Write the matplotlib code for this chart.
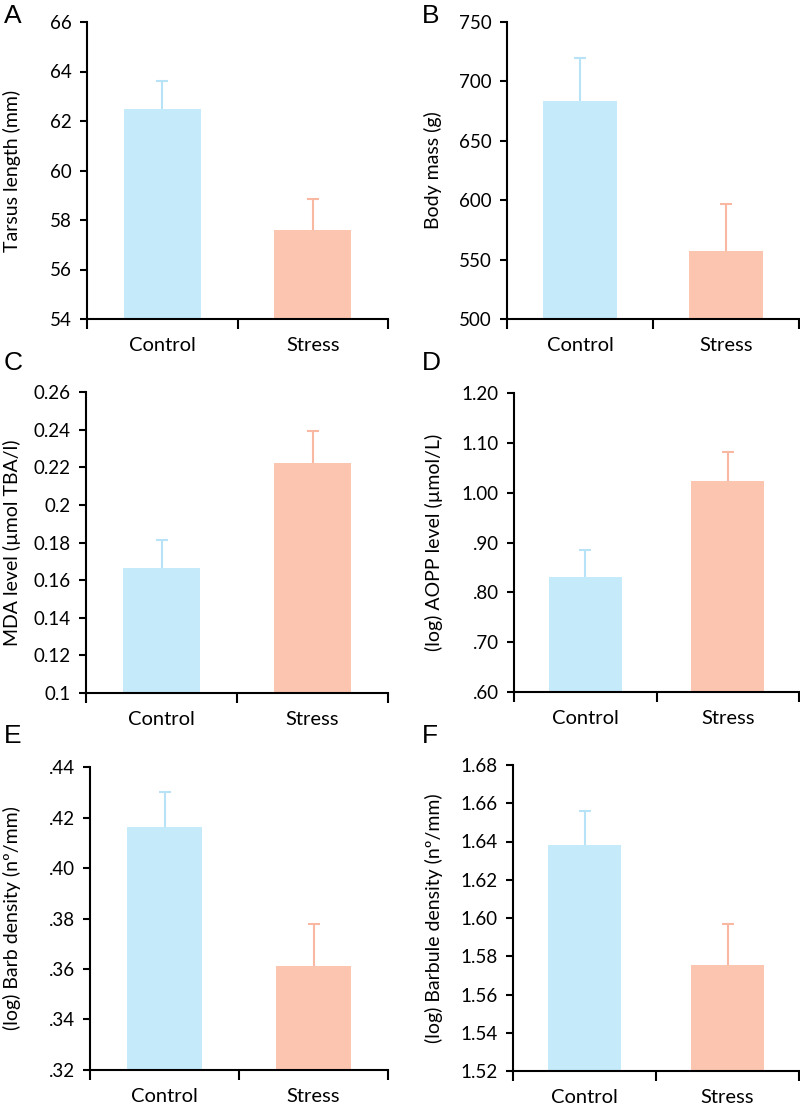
import matplotlib
matplotlib.use("Agg")
import matplotlib.pyplot as plt

plt.rcParams['font.family'] = ['Lato', 'DejaVu Sans']

groups = ["Control", "Stress"]

tarsus_mean = [62.49, 57.60]
tarsus_err = [1.12, 1.25]
mass_mean = [683.9, 557.2]
mass_err = [35.8, 39.8]
mda_mean = [0.1665, 0.2223]
mda_err = [0.0150, 0.0168]
aopp_mean = [0.830, 1.0225]
aopp_err = [0.055, 0.059]
barb_mean = [0.4164, 0.3611]
barb_err = [0.0136, 0.0168]
barbule_mean = [1.6381, 1.5753]
barbule_err = [0.0176, 0.0218]

ticks_A = [54, 56, 58, 60, 62, 64, 66]
labels_A = ["54", "56", "58", "60", "62", "64", "66"]
ticks_B = [500, 550, 600, 650, 700, 750]
labels_B = ["500", "550", "600", "650", "700", "750"]
ticks_C = [0.10, 0.12, 0.14, 0.16, 0.18, 0.20, 0.22, 0.24, 0.26]
labels_C = ["0.1", "0.12", "0.14", "0.16", "0.18", "0.2", "0.22", "0.24", "0.26"]
ticks_D = [0.60, 0.70, 0.80, 0.90, 1.00, 1.10, 1.20]
labels_D = [".60", ".70", ".80", ".90", "1.00", "1.10", "1.20"]
ticks_E = [0.32, 0.34, 0.36, 0.38, 0.40, 0.42, 0.44]
labels_E = [".32", ".34", ".36", ".38", ".40", ".42", ".44"]
ticks_F = [1.52, 1.54, 1.56, 1.58, 1.60, 1.62, 1.64, 1.66, 1.68]
labels_F = ["1.52", "1.54", "1.56", "1.58", "1.60", "1.62", "1.64", "1.66", "1.68"]

bar_colors = ["#C5EAFA", "#FCC5B0"]
err_colors = ["#B8E2F6", "#F8B8A2"]

W, H = 800, 1105
fig = plt.figure(figsize=(W / 100, H / 100), dpi=100)

def px_axes(left, right, top, bottom):
    return fig.add_axes([left / W, 1 - bottom / H, (right - left) / W, (bottom - top) / H])

panels = [
    ("A", (87, 388, 22, 319), tarsus_mean, tarsus_err, ticks_A, labels_A, "Tarsus length (mm)", 12, (4, 16)),
    ("B", (507, 799, 22, 319), mass_mean, mass_err, ticks_B, labels_B, "Body mass (g)", 433, (422, 16)),
    ("C", (86, 388, 392, 693), mda_mean, mda_err, ticks_C, labels_C, "MDA level (µmol TBA/l)", 12, (4, 363)),
    ("D", (514, 799, 393, 692), aopp_mean, aopp_err, ticks_D, labels_D, "(log) AOPP level (µmol/L)", 434, (422, 363)),
    ("E", (90, 388, 767, 1070), barb_mean, barb_err, ticks_E, labels_E, "(log) Barb density (nº/mm)", 12, (4, 736)),
    ("F", (513, 799, 765, 1071), barbule_mean, barbule_err, ticks_F, labels_F, "(log) Barbule density (nº/mm)", 434, (422, 736)),
]

for letter, box, means, errs, ticks, tlabels, ylab, ylab_x, letter_pos in panels:
    ax = px_axes(*box)
    x = [0, 1]
    ax.bar(x, means, width=0.51, color=bar_colors, zorder=2)
    for xi, m, e, ec in zip(x, means, errs, err_colors):
        _, caps, _ = ax.errorbar([xi], [m], yerr=[[0], [e]], fmt='none', ecolor=ec,
                                 elinewidth=1.5, capsize=4, capthick=1.5, zorder=3)
        caps[0].set_visible(False)
    ax.set_xlim(-0.5, 1.5)
    ax.set_ylim(ticks[0], ticks[-1])
    ax.set_yticks(ticks)
    ax.set_yticklabels(tlabels)
    ax.set_xticks(x)
    ax.set_xticklabels(groups)
    ax.set_xticks([-0.5, 0.5, 1.5], minor=True)
    ax.tick_params(axis='x', which='major', length=0, pad=13, labelsize=14.5)
    ax.tick_params(axis='x', which='minor', length=7, width=1.5, direction='out')
    ax.tick_params(axis='y', which='major', length=5, width=1.5, direction='out', labelsize=13.5, pad=6)
    for s in ['top', 'right']:
        ax.spines[s].set_visible(False)
    for s in ['left', 'bottom']:
        ax.spines[s].set_linewidth(1.5)
        ax.spines[s].set_color('black')
    ax.set_ylabel(ylab, fontsize=14)
    ymid = 1 - ((box[2] + box[3]) / 2) / H
    ax.yaxis.set_label_coords(ylab_x / W, ymid, transform=fig.transFigure)
    ax.yaxis.label.set_va('center')
    fig.text(letter_pos[0] / W, 1 - letter_pos[1] / H, letter, fontsize=19,
             family=['Liberation Sans', 'DejaVu Sans'], ha='left', va='center')

fig.savefig("out.png", dpi=100)
